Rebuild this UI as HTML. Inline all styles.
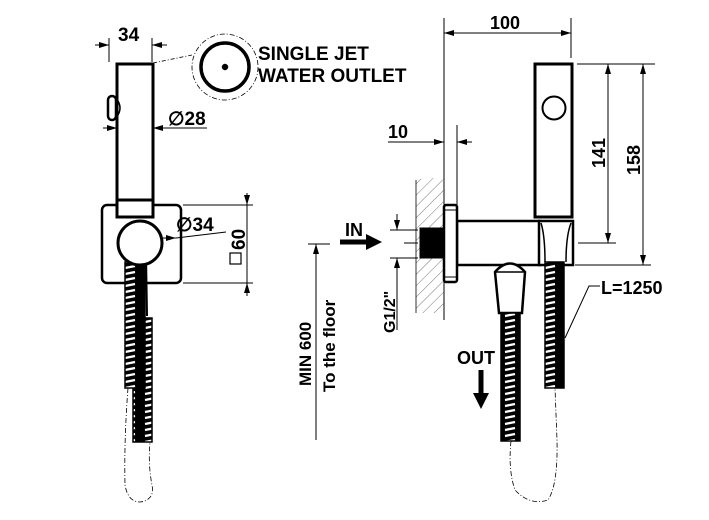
<!DOCTYPE html>
<html><head><style>body{margin:0;background:#fff}svg{display:block}text{font-family:"Liberation Sans",Arial,sans-serif;font-weight:bold;fill:#000}</style></head>
<body>
<svg width="709" height="520" viewBox="0 0 709 520" xmlns="http://www.w3.org/2000/svg">
<defs>
<pattern id="hose" width="20" height="6" patternUnits="userSpaceOnUse">
<rect width="20" height="6" fill="#000"/>
<line x1="5" y1="4" x2="15" y2="2" stroke="#fff" stroke-width="2.2"/>
</pattern>
<pattern id="hatch" width="8" height="8" patternUnits="userSpaceOnUse" patternTransform="rotate(45)">
<line x1="0" y1="0" x2="0" y2="8" stroke="#555" stroke-width="0.8"/>
</pattern>
<marker id="ar" markerWidth="10" markerHeight="6" refX="10" refY="3" orient="auto" markerUnits="userSpaceOnUse"><path d="M0,0 L10,3 L0,6z" fill="#000"/></marker>
</defs>
<g stroke="#000" fill="none">
<line x1="109" y1="38" x2="109" y2="62" stroke-width="1"/>
<line x1="152" y1="38" x2="152" y2="62" stroke-width="1"/>
<line x1="95" y1="45" x2="109" y2="45" stroke-width="1" marker-end="url(#ar)"/>
<line x1="167" y1="45" x2="152" y2="45" stroke-width="1" marker-end="url(#ar)"/>
<rect x="117" y="64" width="36" height="153" stroke-width="3" fill="#fff"/>
<rect x="108" y="96" width="8" height="24" rx="4" stroke-width="2.5"/>
<path d="M116,98 Q124,108 116,118" stroke-width="1.5"/>
<line x1="103" y1="128" x2="117" y2="128" stroke-width="1" marker-end="url(#ar)"/>
<line x1="167" y1="128" x2="153" y2="128" stroke-width="1" marker-end="url(#ar)"/>
<line x1="153" y1="128" x2="207" y2="128" stroke-width="1"/>
<line x1="153" y1="63" x2="192" y2="55" stroke-width="0.8" stroke-dasharray="4,2,1,2"/>
<circle cx="225" cy="67" r="33" stroke-width="0.8" stroke-dasharray="5,2,1,2"/>
<circle cx="225" cy="67" r="24" stroke-width="3.5"/>
<circle cx="225" cy="67" r="3" fill="#000" stroke-width="0.5"/>
<rect x="102" y="205" width="79" height="78" rx="5" stroke-width="2.5"/>
<rect x="118" y="203" width="35" height="15" stroke="none" fill="#fff"/>
<rect x="117" y="200" width="36" height="17" stroke-width="3" fill="#fff"/>
<rect x="133" y="318" width="19" height="124" fill="url(#hose)" stroke-width="1.5"/>
<rect x="125" y="262" width="20" height="126" fill="url(#hose)" stroke-width="1.5"/>
<path d="M146,255 L147,316" stroke-width="2"/>
<circle cx="140" cy="243" r="22" stroke-width="3" fill="#fff"/>
<path d="M128,388 Q124,440 125,485 Q128,502 140,502 Q155,500 152,485 Q148,465 150,442" stroke-width="0.8" stroke-dasharray="5,2,1,2"/>
<line x1="163" y1="238" x2="176" y2="238" stroke-width="1" marker-end="url(#ar)"/>
<line x1="176" y1="238" x2="226" y2="232" stroke-width="1"/>
<line x1="183" y1="205" x2="253" y2="205" stroke-width="1"/>
<line x1="183" y1="283" x2="253" y2="283" stroke-width="1"/>
<line x1="247" y1="193" x2="247" y2="205" stroke-width="1" marker-end="url(#ar)"/>
<line x1="247" y1="205" x2="247" y2="283" stroke-width="1"/>
<line x1="247" y1="296" x2="247" y2="283" stroke-width="1" marker-end="url(#ar)"/>
<rect x="230" y="253" width="11" height="11" stroke-width="1.2"/>

<line x1="444" y1="18" x2="444" y2="320" stroke-width="1"/>
<line x1="571" y1="18" x2="571" y2="58" stroke-width="1"/>
<line x1="444" y1="33" x2="571" y2="33" stroke-width="1"/>
<line x1="459" y1="33" x2="444" y2="33" stroke-width="1" marker-end="url(#ar)"/>
<line x1="556" y1="33" x2="571" y2="33" stroke-width="1" marker-end="url(#ar)"/>
<rect x="535" y="64" width="37" height="153" stroke-width="3" fill="#fff"/>
<circle cx="554" cy="108" r="11.5" stroke-width="2"/>
<line x1="577" y1="64" x2="655" y2="64" stroke-width="1"/>
<line x1="578" y1="243" x2="616" y2="243" stroke-width="1"/>
<line x1="575" y1="265" x2="651" y2="265" stroke-width="1"/>
<line x1="608" y1="64" x2="608" y2="243" stroke-width="1"/>
<line x1="608" y1="76" x2="608" y2="64" stroke-width="1" marker-end="url(#ar)"/>
<line x1="608" y1="231" x2="608" y2="243" stroke-width="1" marker-end="url(#ar)"/>
<line x1="643" y1="64" x2="643" y2="265" stroke-width="1"/>
<line x1="643" y1="76" x2="643" y2="64" stroke-width="1" marker-end="url(#ar)"/>
<line x1="643" y1="253" x2="643" y2="265" stroke-width="1" marker-end="url(#ar)"/>
<path d="M416,180 Q430,176 444,180 L444,313 L416,313 Z" fill="url(#hatch)" stroke="none"/>
<path d="M416,180 L416,313" stroke-width="0.8"/>
<rect x="420" y="228" width="23" height="30" fill="#000" stroke-width="1"/>
<rect x="457" y="221" width="83" height="44" stroke-width="2.5" fill="#fff"/>
<rect x="539" y="221" width="34" height="44" stroke-width="2.5" fill="#fff"/>
<path d="M541,223 Q545,236 545,262 M571,223 Q566,236 566,262" stroke-width="1.5"/>
<rect x="444" y="205" width="13" height="77" rx="2" stroke-width="2.5" fill="#fff"/>
<line x1="444" y1="210" x2="457" y2="210" stroke-width="1"/>
<line x1="444" y1="277" x2="457" y2="277" stroke-width="1"/>
<line x1="457" y1="125" x2="457" y2="205" stroke-width="1"/>
<line x1="388" y1="142" x2="444" y2="142" stroke-width="1" marker-end="url(#ar)"/>
<line x1="472" y1="142" x2="457" y2="142" stroke-width="1" marker-end="url(#ar)"/>
<line x1="340" y1="242" x2="368" y2="242" stroke-width="5"/>
<path d="M366,234 L382,242 L366,250 Z" fill="#000" stroke="none"/>
<line x1="390" y1="230" x2="418" y2="230" stroke-width="1"/>
<line x1="390" y1="258" x2="418" y2="258" stroke-width="1"/>
<line x1="404" y1="243" x2="418" y2="243" stroke-width="1"/>
<line x1="397" y1="214" x2="397" y2="230" stroke-width="1" marker-end="url(#ar)"/>
<line x1="397" y1="330" x2="397" y2="258" stroke-width="1"/>
<line x1="397" y1="272" x2="397" y2="258" stroke-width="1" marker-end="url(#ar)"/>
<line x1="308" y1="244" x2="330" y2="244" stroke-width="1"/>
<line x1="316" y1="440" x2="316" y2="244" stroke-width="1" marker-end="url(#ar)"/>
<path d="M495,272 Q510,255 525,272 L522,313 L499,313 Z" stroke-width="2.5" fill="#fff"/>
<line x1="495" y1="272" x2="525" y2="272" stroke-width="1.5"/>
<rect x="501" y="313" width="19" height="128" fill="url(#hose)" stroke-width="1.5"/>
<rect x="545" y="262" width="19" height="126" fill="url(#hose)" stroke-width="1.5"/>
<path d="M511,441 Q508,470 515,490 Q530,506 548,500 Q558,485 557,440 L555,388" stroke-width="0.8" stroke-dasharray="5,2,1,2"/>
<line x1="481" y1="370" x2="481" y2="395" stroke-width="5"/>
<path d="M473,393 L481,409 L489,393 Z" fill="#000" stroke="none"/>
<path d="M565,338 L589,286 L600,286" stroke-width="1"/>
</g>
<g font-size="18">
<text x="118" y="41" font-size="19">34</text>
<text x="168" y="125" font-size="19">∅28</text>
<text x="258" y="60" font-size="19">SINGLE JET</text>
<text x="258" y="82" font-size="19">WATER OUTLET</text>
<text x="176" y="231" font-size="19">∅34</text>
<text transform="translate(245,250) rotate(-90)" font-size="19">60</text>
<text x="490" y="29">100</text>
<text x="388" y="138">10</text>
<text x="345" y="236">IN</text>
<text transform="translate(605,168) rotate(-90)">141</text>
<text transform="translate(640,175) rotate(-90)">158</text>
<text x="601" y="294">L=1250</text>
<text transform="translate(395,333) rotate(-90)" font-size="16">G1/2"</text>
<text transform="translate(311,386) rotate(-90)" font-size="17">MIN 600</text>
<text transform="translate(335,392) rotate(-90)" font-size="17">To the floor</text>
<text x="457" y="364">OUT</text>
</g>
</svg>
</body></html>
